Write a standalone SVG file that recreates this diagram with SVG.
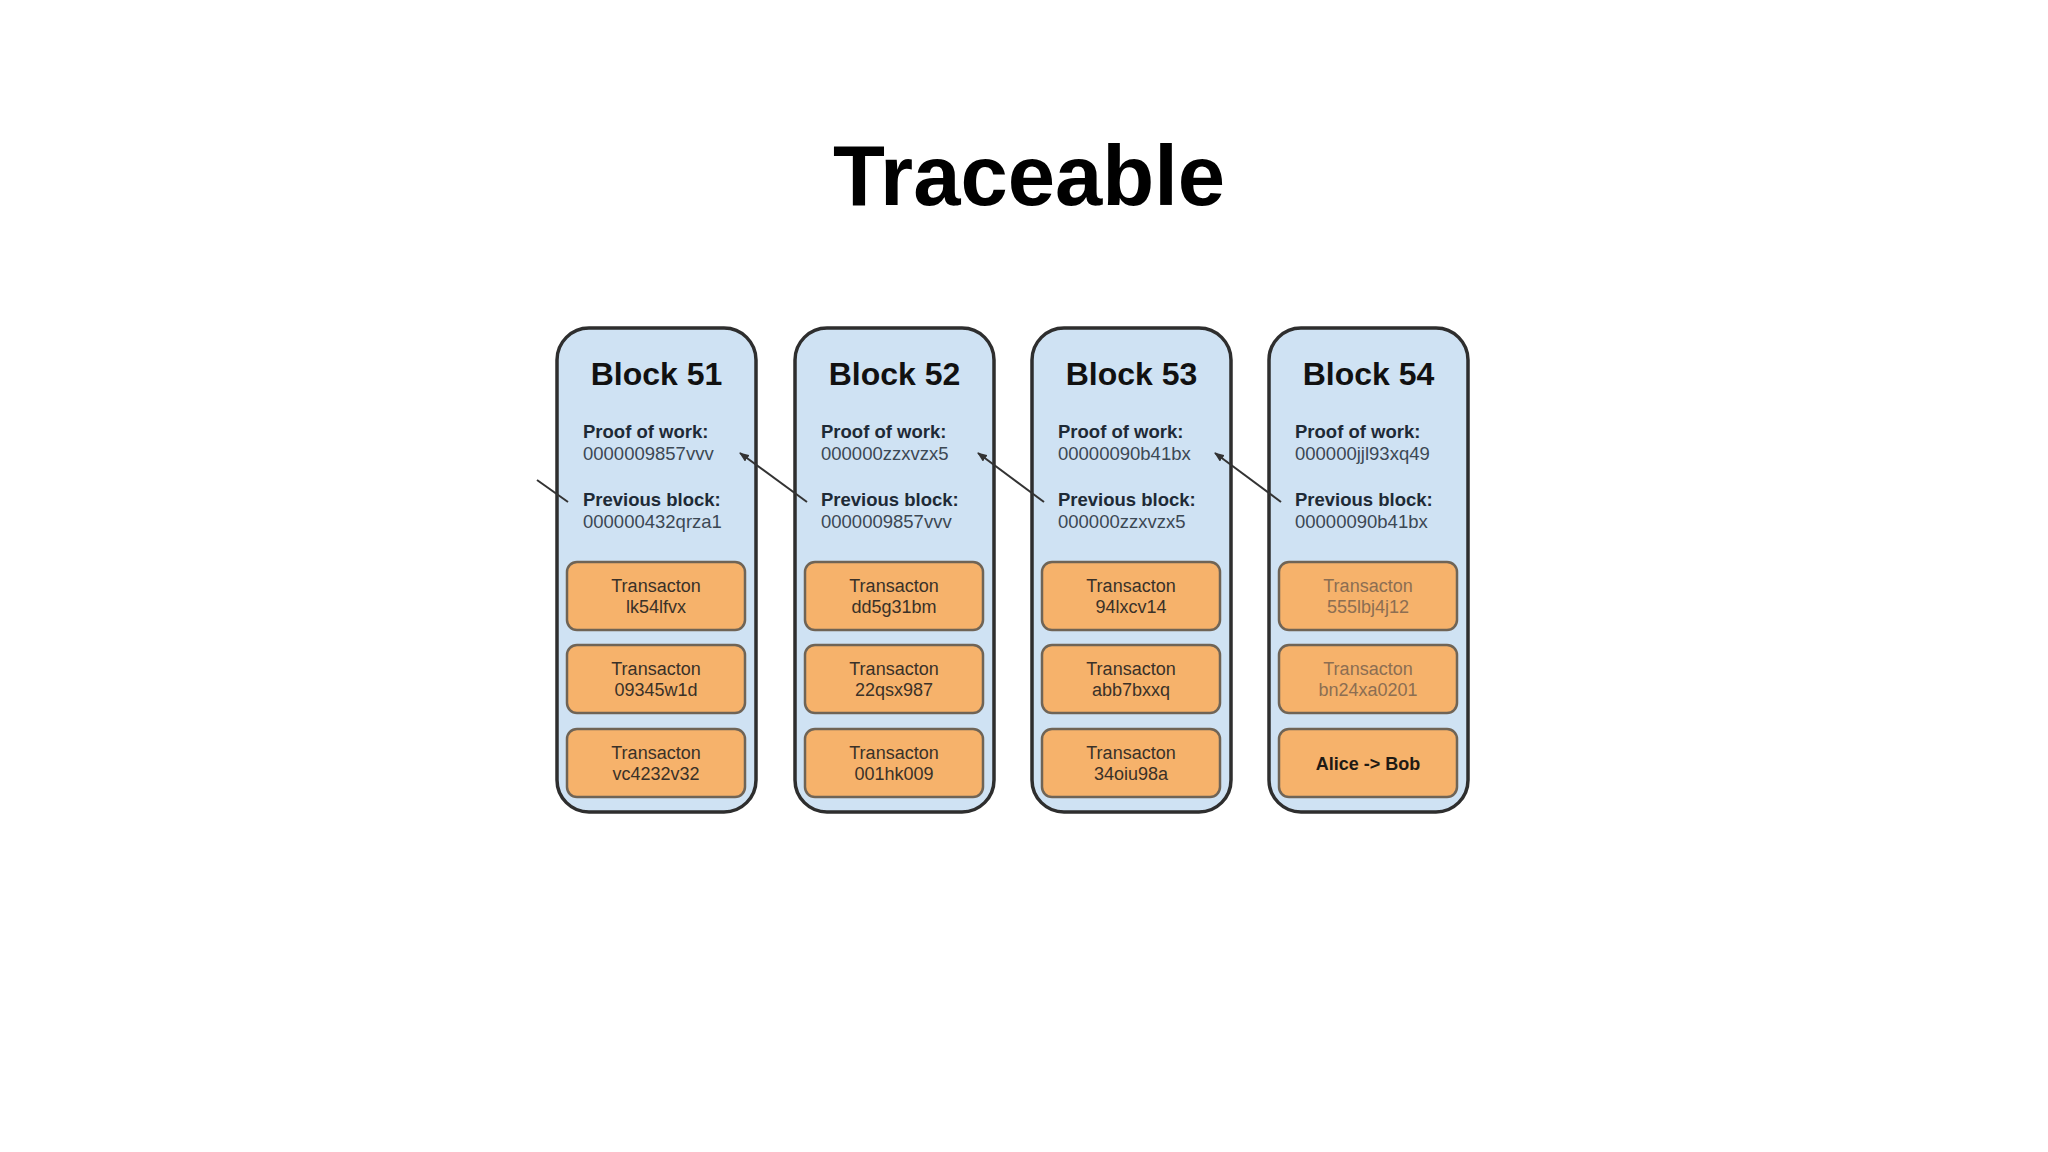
<svg xmlns="http://www.w3.org/2000/svg" width="2048" height="1152" viewBox="0 0 2048 1152">
<style>
.blk{fill:#cfe2f3;stroke:#2e2e2e;stroke-width:3.5}
.tx{fill:#f6b26b;stroke:#6f6456;stroke-width:2.5}
.bt{font-family:"Liberation Sans",Arial,sans-serif;font-weight:bold;font-size:32px;fill:#111;text-anchor:middle}
.lb{font-family:"Liberation Sans",Arial,sans-serif;font-weight:bold;font-size:18.5px;fill:#1e2a36}
.hs{font-family:"Liberation Sans",Arial,sans-serif;font-size:18.5px;fill:#3c4854}
.tt{font-family:"Liberation Sans",Arial,sans-serif;font-size:18px;fill:#3a3128;text-anchor:middle}
.tf{fill:#8c6e52}
.tb{font-weight:bold;fill:#1f1a14}
.cn{stroke:#333;stroke-width:2;fill:none}
</style>
<defs>
<marker id="ah" markerWidth="10" markerHeight="8" refX="9" refY="4" orient="auto" markerUnits="userSpaceOnUse">
<path d="M0,0 L10,4 L0,8 Z" fill="#333"/>
</marker>
</defs>
<rect width="2048" height="1152" fill="#fff"/>
<text x="1029" y="205" font-family="'Liberation Sans',Arial,sans-serif" font-weight="bold" font-size="85" text-anchor="middle" fill="#000">Traceable</text>

<g id="block51">
<rect class="blk" x="557" y="328" width="199" height="484" rx="32"/>
<text class="bt" x="656.5" y="385">Block 51</text>
<text class="lb" x="583" y="438">Proof of work:</text>
<text class="hs" x="583" y="460">0000009857vvv</text>
<text class="lb" x="583" y="506">Previous block:</text>
<text class="hs" x="583" y="528">000000432qrza1</text>
<rect class="tx" x="567" y="562" width="178" height="68" rx="10"/>
<text class="tt" x="656" y="592">Transacton</text><text class="tt" x="656" y="613">lk54lfvx</text>
<rect class="tx" x="567" y="645" width="178" height="68" rx="10"/>
<text class="tt" x="656" y="675">Transacton</text><text class="tt" x="656" y="696">09345w1d</text>
<rect class="tx" x="567" y="729" width="178" height="68" rx="10"/>
<text class="tt" x="656" y="759">Transacton</text><text class="tt" x="656" y="780">vc4232v32</text>
</g>

<g id="block52">
<rect class="blk" x="795" y="328" width="199" height="484" rx="32"/>
<text class="bt" x="894.5" y="385">Block 52</text>
<text class="lb" x="821" y="438">Proof of work:</text>
<text class="hs" x="821" y="460">000000zzxvzx5</text>
<text class="lb" x="821" y="506">Previous block:</text>
<text class="hs" x="821" y="528">0000009857vvv</text>
<rect class="tx" x="805" y="562" width="178" height="68" rx="10"/>
<text class="tt" x="894" y="592">Transacton</text><text class="tt" x="894" y="613">dd5g31bm</text>
<rect class="tx" x="805" y="645" width="178" height="68" rx="10"/>
<text class="tt" x="894" y="675">Transacton</text><text class="tt" x="894" y="696">22qsx987</text>
<rect class="tx" x="805" y="729" width="178" height="68" rx="10"/>
<text class="tt" x="894" y="759">Transacton</text><text class="tt" x="894" y="780">001hk009</text>
</g>

<g id="block53">
<rect class="blk" x="1032" y="328" width="199" height="484" rx="32"/>
<text class="bt" x="1131.5" y="385">Block 53</text>
<text class="lb" x="1058" y="438">Proof of work:</text>
<text class="hs" x="1058" y="460">00000090b41bx</text>
<text class="lb" x="1058" y="506">Previous block:</text>
<text class="hs" x="1058" y="528">000000zzxvzx5</text>
<rect class="tx" x="1042" y="562" width="178" height="68" rx="10"/>
<text class="tt" x="1131" y="592">Transacton</text><text class="tt" x="1131" y="613">94lxcv14</text>
<rect class="tx" x="1042" y="645" width="178" height="68" rx="10"/>
<text class="tt" x="1131" y="675">Transacton</text><text class="tt" x="1131" y="696">abb7bxxq</text>
<rect class="tx" x="1042" y="729" width="178" height="68" rx="10"/>
<text class="tt" x="1131" y="759">Transacton</text><text class="tt" x="1131" y="780">34oiu98a</text>
</g>

<g id="block54">
<rect class="blk" x="1269" y="328" width="199" height="484" rx="32"/>
<text class="bt" x="1368.5" y="385">Block 54</text>
<text class="lb" x="1295" y="438">Proof of work:</text>
<text class="hs" x="1295" y="460">000000jjl93xq49</text>
<text class="lb" x="1295" y="506">Previous block:</text>
<text class="hs" x="1295" y="528">00000090b41bx</text>
<rect class="tx" x="1279" y="562" width="178" height="68" rx="10"/>
<text class="tt tf" x="1368" y="592">Transacton</text><text class="tt tf" x="1368" y="613">555lbj4j12</text>
<rect class="tx" x="1279" y="645" width="178" height="68" rx="10"/>
<text class="tt tf" x="1368" y="675">Transacton</text><text class="tt tf" x="1368" y="696">bn24xa0201</text>
<rect class="tx" x="1279" y="729" width="178" height="68" rx="10"/>
<text class="tt tb" x="1368" y="770">Alice -&gt; Bob</text>
</g>

<g id="connectors">
<line class="cn" x1="537" y1="480" x2="568" y2="502"/>
<line class="cn" x1="807" y1="502" x2="740" y2="453" marker-end="url(#ah)"/>
<line class="cn" x1="1044" y1="502" x2="978" y2="453" marker-end="url(#ah)"/>
<line class="cn" x1="1281" y1="502" x2="1215" y2="453" marker-end="url(#ah)"/>
</g>
</svg>
